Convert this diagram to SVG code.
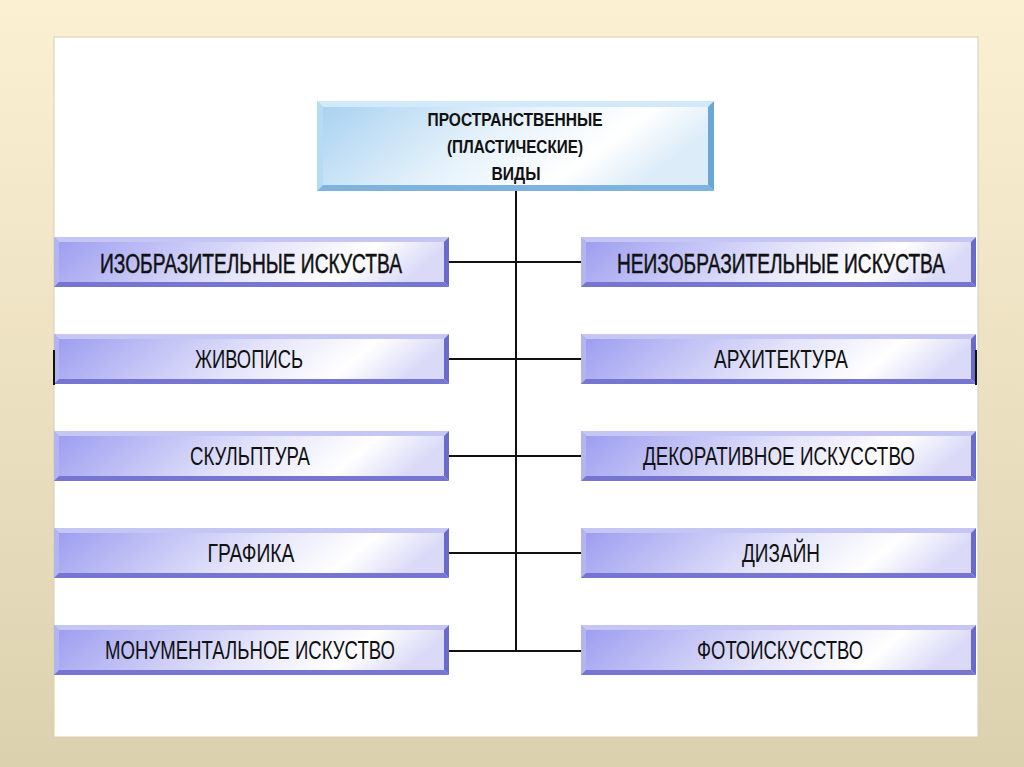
<svg xmlns="http://www.w3.org/2000/svg" xmlns:xlink="http://www.w3.org/1999/xlink" width="1024" height="767" viewBox="0 0 1024 767">
<defs>
<linearGradient id="bg" x1="0" y1="0" x2="0" y2="1"><stop offset="0" stop-color="#fcf0d3"/><stop offset="1" stop-color="#dcd1af"/></linearGradient>
<linearGradient id="face" x1="0" y1="0" x2="1" y2="0.15"><stop offset="0" stop-color="#9a9af0"/><stop offset="0.55" stop-color="#e4e4fb"/><stop offset="0.82" stop-color="#ffffff"/><stop offset="1" stop-color="#dadaf8"/></linearGradient>
<linearGradient id="faceTop" x1="0" y1="0" x2="1" y2="0.3"><stop offset="0" stop-color="#a6d0f0"/><stop offset="0.5" stop-color="#e6f2fb"/><stop offset="0.8" stop-color="#ffffff"/><stop offset="1" stop-color="#dcecf8"/></linearGradient>
<g id="btn">
<rect x="0" y="0" width="395" height="50" fill="url(#face)"/>
<polygon points="0,0 395,0 390,5 5,5" fill="#c6c6f4"/>
<polygon points="0,0 5,5 5,45 0,50" fill="#b4b4ee"/>
<polygon points="395,0 395,50 390,45 390,5" fill="#6a6acc"/>
<polygon points="0,50 395,50 390,45 5,45" fill="#7676d2"/>
</g>
</defs>
<style>
.t{font-family:"Liberation Sans",Arial,sans-serif;font-size:25px;fill:#111;text-anchor:middle}
.b{font-size:27px;stroke:#111;stroke-width:0.5}
.h{font-family:"Liberation Sans",Arial,sans-serif;font-size:19px;font-weight:bold;fill:#111;text-anchor:middle}
.ln{stroke:#111;stroke-width:2;fill:none}
</style>
<rect width="1024" height="767" fill="url(#bg)"/>
<rect x="54" y="37" width="924" height="700" fill="#ffffff" stroke="#d6cdb8" stroke-width="1"/>
<g id="connectors">
<line class="ln" x1="516" y1="191" x2="516" y2="652"/>
<line class="ln" x1="448" y1="262" x2="581" y2="262"/>
<line class="ln" x1="448" y1="359" x2="581" y2="359"/>
<line class="ln" x1="448" y1="456" x2="581" y2="456"/>
<line class="ln" x1="448" y1="553" x2="581" y2="553"/>
<line class="ln" x1="448" y1="651" x2="581" y2="651"/>
</g>
<g id="top">
<rect x="317" y="101" width="397" height="90" fill="url(#faceTop)"/>
<polygon points="317,101 714,101 708,107 323,107" fill="#d2e9fa"/>
<polygon points="317,101 323,107 323,185 317,191" fill="#b6dbf4"/>
<polygon points="714,101 714,191 708,185 708,107" fill="#6aa6d6"/>
<polygon points="317,191 714,191 708,185 323,185" fill="#7db3dc"/>
<text class="h" x="515" y="126" textLength="175" lengthAdjust="spacingAndGlyphs">ПРОСТРАНСТВЕННЫЕ</text>
<text class="h" x="515" y="153" textLength="136" lengthAdjust="spacingAndGlyphs">(ПЛАСТИЧЕСКИЕ)</text>
<text class="h" x="516" y="180" textLength="49" lengthAdjust="spacingAndGlyphs">ВИДЫ</text>
</g>
<g id="izo"><use xlink:href="#btn" x="54" y="237"/><text class="t b" x="251" y="273" textLength="302" lengthAdjust="spacingAndGlyphs">ИЗОБРАЗИТЕЛЬНЫЕ ИСКУСТВА</text></g>
<g id="zhivopis"><use xlink:href="#btn" x="54" y="334"/><line x1="54" y1="350" x2="54" y2="385" stroke="#111" stroke-width="2"/><text class="t" x="249" y="368" textLength="108" lengthAdjust="spacingAndGlyphs">ЖИВОПИСЬ</text></g>
<g id="skulptura"><use xlink:href="#btn" x="54" y="431"/><text class="t" x="250" y="465" textLength="120" lengthAdjust="spacingAndGlyphs">СКУЛЬПТУРА</text></g>
<g id="grafika"><use xlink:href="#btn" x="54" y="528"/><text class="t" x="251" y="562" textLength="87" lengthAdjust="spacingAndGlyphs">ГРАФИКА</text></g>
<g id="monument"><use xlink:href="#btn" x="54" y="625"/><text class="t" x="250" y="659" textLength="290" lengthAdjust="spacingAndGlyphs">МОНУМЕНТАЛЬНОЕ ИСКУСТВО</text></g>
<g id="neizo"><use xlink:href="#btn" x="581" y="237"/><text class="t b" x="781" y="273" textLength="328" lengthAdjust="spacingAndGlyphs">НЕИЗОБРАЗИТЕЛЬНЫЕ ИСКУСТВА</text></g>
<g id="arch"><use xlink:href="#btn" x="581" y="334"/><line x1="976" y1="350" x2="976" y2="385" stroke="#111" stroke-width="2"/><text class="t" x="781" y="368" textLength="134" lengthAdjust="spacingAndGlyphs">АРХИТЕКТУРА</text></g>
<g id="dekor"><use xlink:href="#btn" x="581" y="431"/><text class="t" x="779" y="465" textLength="272" lengthAdjust="spacingAndGlyphs">ДЕКОРАТИВНОЕ ИСКУССТВО</text></g>
<g id="dizain"><use xlink:href="#btn" x="581" y="528"/><text class="t" x="781" y="562" textLength="78" lengthAdjust="spacingAndGlyphs">ДИЗАЙН</text></g>
<g id="foto"><use xlink:href="#btn" x="581" y="625"/><text class="t" x="780" y="659" textLength="166" lengthAdjust="spacingAndGlyphs">ФОТОИСКУССТВО</text></g>
</svg>
